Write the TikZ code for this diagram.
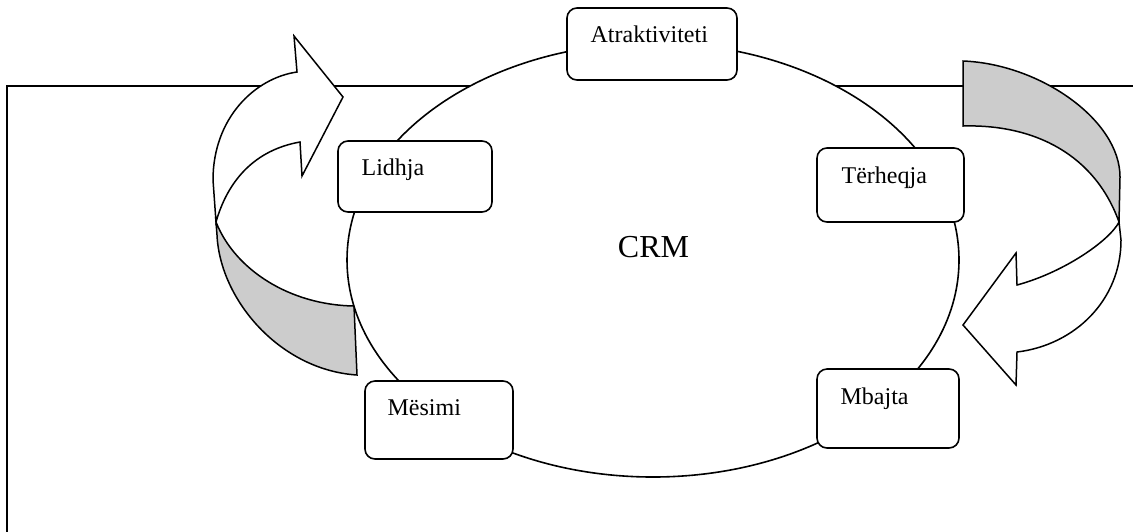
\documentclass[tikz,border=0pt]{standalone}
\usepackage{fontspec}
\setmainfont{Liberation Serif}
\usetikzlibrary{shapes.geometric,calc}
\begin{document}
\begin{tikzpicture}[x=0.5pt,y=-0.5pt,
  stagebox/.style={draw, line width=0.8pt, fill=white, rounded corners=5pt, inner sep=0pt},
  lbl/.style={font=\fontsize{12}{14}\selectfont, anchor=base west, inner sep=0pt},
  face/.style={draw, line width=0.75pt, fill=white, line join=miter},
  back/.style={draw, line width=0.75pt, fill=black!20, line join=miter}]
\useasboundingbox (0,0) rectangle (1133,531);
% frame
\draw[line width=1pt] (7,540) -- (7,86) -- (1140,86);
% left curved arrow: back (grey) and front (white)
\coordinate (jl) at (216,222);
\draw[back] (jl) -- (217,235) .. controls (220,300) and (280,370) .. (357,375)
  -- (354,306) .. controls (290,305) and (235,270) .. (jl) -- cycle;
\draw[face] (jl) .. controls (228,180) and (255,150) .. (300,142)
  -- (302,176) -- (343,97) -- (294,36) -- (297,72)
  .. controls (255,78) and (213,118) .. (213,180) -- cycle;
% right curved arrow
\coordinate (jr) at (1119,222);
\draw[back] (963,61) .. controls (1040,64) and (1120,120) .. (1120,177)
  -- (jr) .. controls (1095,155) and (1035,124) .. (963,126) -- cycle;
\draw[face] (jr) .. controls (1110,240) and (1065,272) .. (1017,285)
  -- (1016,253) -- (963,325) -- (1016,385) -- (1017,352)
  .. controls (1075,345) and (1121,300) .. (1121,240) -- cycle;
% central ring
\node[ellipse, draw, line width=0.8pt, fill=white, minimum width=306pt, minimum height=217pt, inner sep=0pt] (ring) at (653,260) {};
\node[font=\fontsize{16}{19}\selectfont, anchor=base, inner sep=0pt] (crm) at (653.5,257) {CRM};
% stage boxes
\node[stagebox, minimum width=85pt, minimum height=36pt] (atr) at (652,44) {};
\node[stagebox, minimum width=77pt, minimum height=35.5pt] (lid) at (415,176.5) {};
\node[stagebox, minimum width=73.5pt, minimum height=37pt] (ter) at (890.5,185) {};
\node[stagebox, minimum width=74pt, minimum height=39pt] (mes) at (439,420) {};
\node[stagebox, minimum width=71pt, minimum height=39.5pt] (mba) at (888,408.5) {};
\node[lbl] (atrt) at ($(atr.north west)+(24,35.5)$) {Atraktiviteti};
\node[lbl] (lidt) at ($(lid.north west)+(24,35.5)$) {Lidhja};
\node[lbl] (tert) at ($(ter.north west)+(25,36)$) {Tërheqja};
\node[lbl] (mest) at ($(mes.north west)+(23,35)$) {Mësimi};
\node[lbl] (mbat) at ($(mba.north west)+(24,36)$) {Mbajta};
\end{tikzpicture}
\end{document}
